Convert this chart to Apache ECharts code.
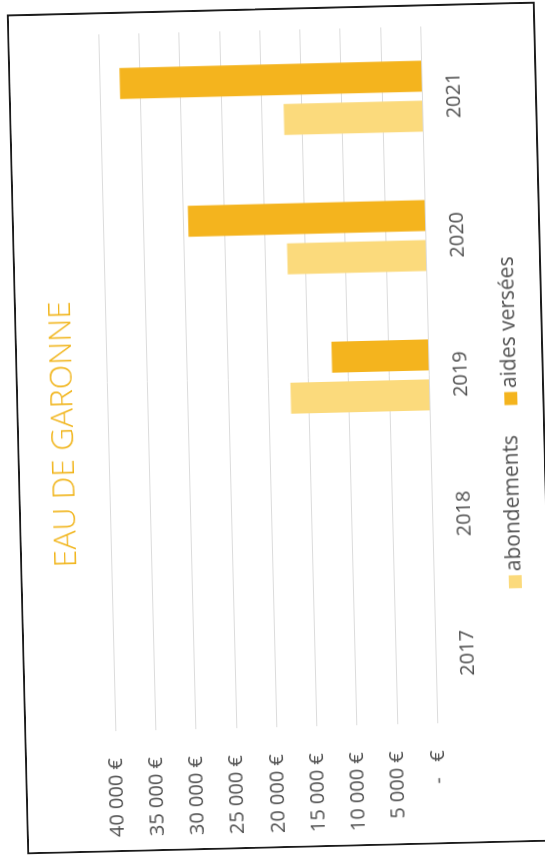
<!DOCTYPE html>
<html>
<head>
<meta charset="utf-8">
<script src="https://cdn.jsdelivr.net/npm/echarts@6/dist/echarts.min.js"></script>
<style>
html,body{margin:0;padding:0;width:545px;height:859px;overflow:hidden;background:#fff;}
#frame{position:absolute;left:-139px;top:163.5px;width:840px;height:528px;box-sizing:border-box;border:2px solid #1c1c1c;background:#fff;transform:rotate(-91.4deg);transform-origin:50% 50%;}
#chart{width:836px;height:524px;}
</style>
</head>
<body>
<div id="frame"><div id="chart"></div></div>
<script>
// Data
const titleText = 'EAU DE GARONNE';
const categories = ['2017', '2018', '2019', '2020', '2021'];
const seriesNames = ['abondements', 'aides versées'];
const abondements = [null, null, 17200, 17200, 17200];
const aidesVersees = [null, null, 12000, 29400, 37500];
const valueTicks = [0, 5000, 10000, 15000, 20000, 25000, 30000, 35000, 40000];

const fmt = v => v === 0 ? '-   €' : String(v).replace(/\B(?=(\d{3})+(?!\d))/g, ' ') + ' €';
const labelColor = '#505050';
const font = '"Open Sans", sans-serif';

const chart = echarts.init(document.getElementById('chart'), null, {renderer: 'canvas'});
chart.setOption({
  animation: false,
  backgroundColor: '#fff',
  title: {
    text: titleText,
    left: 412,
    textAlign: 'center',
    top: 24,
    textStyle: {color: '#F1B51C', fontSize: 32, fontWeight: 300, fontFamily: font}
  },
  legend: {
    data: seriesNames,
    left: 'center',
    top: 477,
    itemWidth: 13,
    itemHeight: 13,
    itemGap: 30,
    icon: 'rect',
    textStyle: {color: labelColor, fontSize: 21, fontFamily: font, padding: [0, 0, 0, -1]}
  },
  grid: {left: 119, right: 20, top: 89, bottom: 113, containLabel: false},
  xAxis: {
    type: 'category',
    data: categories,
    axisLine: {show: false},
    axisTick: {show: false},
    axisLabel: {color: labelColor, fontSize: 20, fontFamily: font, margin: 22}
  },
  yAxis: {
    type: 'value',
    min: valueTicks[0],
    max: valueTicks[valueTicks.length - 1],
    interval: valueTicks[1] - valueTicks[0],
    axisLine: {show: false},
    axisTick: {show: false},
    splitLine: {show: true, lineStyle: {color: '#dcdcdc', width: 1}},
    axisLabel: {color: labelColor, fontSize: 20, fontFamily: font, margin: 27, formatter: fmt}
  },
  series: [
    {name: seriesNames[0], type: 'bar', data: abondements, barWidth: 31, barGap: '29%',
     itemStyle: {color: '#FBDA7C'}},
    {name: seriesNames[1], type: 'bar', data: aidesVersees, barWidth: 31, barGap: '29%',
     itemStyle: {color: '#F4B41E'}}
  ]
});
</script>
</body>
</html>
